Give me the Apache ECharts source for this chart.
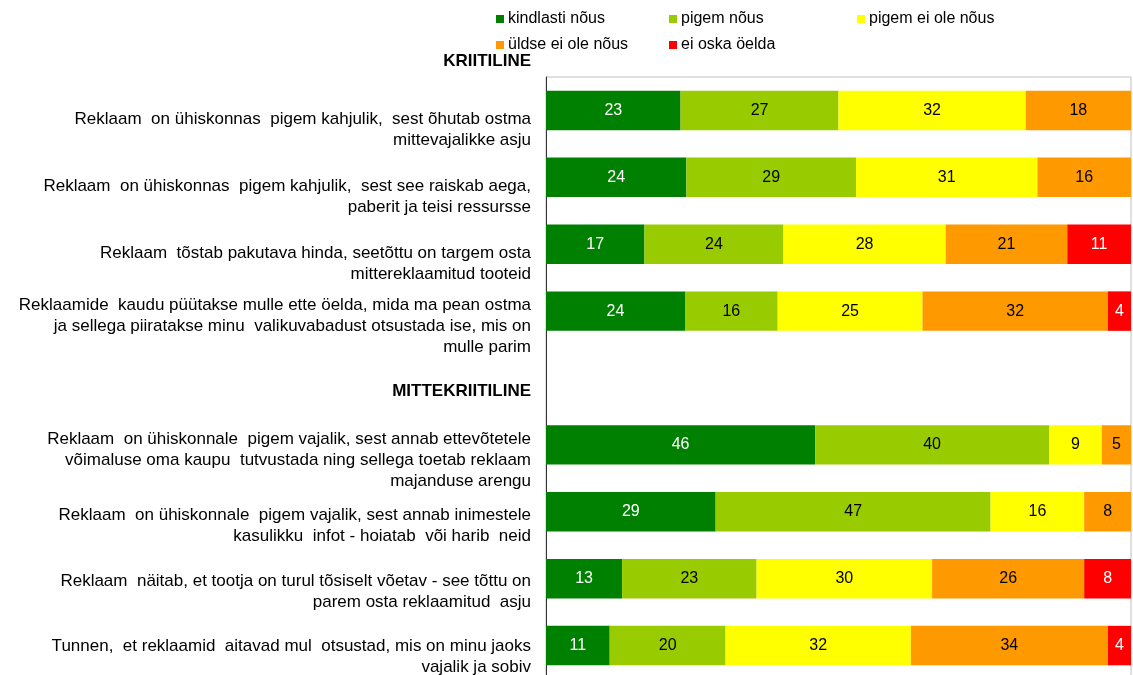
<!DOCTYPE html>
<html>
<head>
<meta charset="utf-8">
<script src="https://cdn.jsdelivr.net/npm/echarts@6/dist/echarts.min.js"></script>
<style>
  html, body { margin: 0; padding: 0; background: #fff; overflow: hidden; }
  #chart { width: 1133px; height: 680px; }
</style>
</head>
<body>
<div id="chart"></div>
<script>
var statements = [
    "Reklaam  on ühiskonnas  pigem kahjulik,  sest õhutab ostma\nmittevajalikke asju",
    "Reklaam  on ühiskonnas  pigem kahjulik,  sest see raiskab aega,\npaberit ja teisi ressursse",
    "Reklaam  tõstab pakutava hinda, seetõttu on targem osta\nmittereklaamitud tooteid",
    "Reklaamide  kaudu püütakse mulle ette öelda, mida ma pean ostma\nja sellega piiratakse minu  valikuvabadust otsustada ise, mis on\nmulle parim",
    "MITTEKRIITILINE",
    "Reklaam  on ühiskonnale  pigem vajalik, sest annab ettevõtetele\nvõimaluse oma kaupu  tutvustada ning sellega toetab reklaam\nmajanduse arengu",
    "Reklaam  on ühiskonnale  pigem vajalik, sest annab inimestele\nkasulikku  infot - hoiatab  või harib  neid",
    "Reklaam  näitab, et tootja on turul tõsiselt võetav - see tõttu on\nparem osta reklaamitud  asju",
    "Tunnen,  et reklaamid  aitavad mul  otsustad, mis on minu jaoks\nvajalik ja sobiv"
];
var groupTitle = "KRIITILINE";

var seriesNames = ["kindlasti nõus", "pigem nõus", "pigem ei ole nõus", "üldse ei ole nõus", "ei oska öelda"];
var kindlastiNous  = [23, 24, 17, 24, null, 46, 29, 13, 11];
var pigemNous      = [27, 29, 24, 16, null, 40, 47, 23, 20];
var pigemEiOleNous = [32, 31, 28, 25, null, 9, 16, 30, 32];
var uldseEiOleNous = [18, 16, 21, 32, null, 5, 8, 26, 34];
var eiOskaOelda    = [null, null, 11, 4, null, null, null, 8, 4];

var rawValues = [kindlastiNous, pigemNous, pigemEiOleNous, uldseEiOleNous, eiOskaOelda];
var colors = ['#008000', '#99CC00', '#FFFF00', '#FF9900', '#FF0000'];
var labelColors = ['#fff', '#000', '#000', '#000', '#fff'];
var FONT = '"Liberation Sans", Arial, sans-serif';

// row totals, bars are drawn as share of 100 like Excel's 100% stacked bar
var totals = statements.map(function (s, i) {
    return rawValues.reduce(function (acc, arr) { return acc + (arr[i] || 0); }, 0);
});

// how far each category label sits below its bar (px)
var labelShift = [19, 19, 20, 15, 13, 15, 14, 13, 11];

var rich = {
    t: { fontFamily: FONT, fontSize: 17, lineHeight: 21, color: '#000', align: 'right' },
    b: { fontFamily: FONT, fontSize: 17, lineHeight: 21, color: '#000', fontWeight: 'bold', align: 'right' }
};
labelShift.forEach(function (s) {
    rich['s' + s] = { fontSize: 1, lineHeight: s * 2, height: s * 2 };
});

var chartDom = document.getElementById('chart');
var myChart = echarts.init(chartDom);

var series = seriesNames.map(function (name, k) {
    return {
        name: name,
        type: 'bar',
        stack: 'total',
        barWidth: '59%',
        itemStyle: { color: colors[k] },
        label: {
            show: true,
            position: 'inside',
            color: labelColors[k],
            fontFamily: FONT,
            fontSize: 16,
            formatter: function (p) {
                var v = rawValues[k][p.dataIndex];
                return v == null ? '' : String(v);
            }
        },
        data: rawValues[k].map(function (v, i) {
            return v == null ? null : v / totals[i] * 100;
        })
    };
});

var legendPos = [[496, 11], [669, 11], [857, 11], [496, 37], [669, 37]];
var legends = seriesNames.map(function (name, k) {
    return {
        data: [name],
        left: legendPos[k][0],
        top: legendPos[k][1],
        icon: 'rect',
        itemWidth: 8,
        itemHeight: 8,
        itemGap: 0,
        padding: 0,
        selectedMode: false,
        textStyle: { fontFamily: FONT, fontSize: 16, color: '#000', padding: [0, 0, 0, -1] }
    };
});

var option = {
    animation: false,
    color: colors,
    legend: legends,
    grid: {
        left: 546,
        right: 2,
        top: 77,
        height: 602,
        containLabel: false,
        show: true,
        borderColor: '#c0c0c0',
        borderWidth: 1
    },
    graphic: [{
        type: 'text',
        style: {
            text: groupTitle,
            x: 531,
            y: 61,
            textAlign: 'right',
            textVerticalAlign: 'middle',
            font: 'bold 17px ' + FONT,
            fill: '#000'
        }
    }],
    xAxis: {
        type: 'value',
        min: 0,
        max: 100,
        show: false
    },
    yAxis: {
        type: 'category',
        inverse: true,
        data: statements,
        axisLine: { show: true, lineStyle: { color: '#333' } },
        axisTick: { show: false },
        axisLabel: {
            interval: 0,
            margin: 15,
            align: 'right',
            rich: rich,
            formatter: function (value, idx) {
                var style = idx === 4 ? 'b' : 't';
                var lines = value.split('\n').map(function (l) {
                    return '{' + style + '|' + l + '}';
                });
                return '{s' + labelShift[idx] + '| }\n' + lines.join('\n');
            }
        }
    },
    series: series
};

myChart.setOption(option);
</script>
</body>
</html>
